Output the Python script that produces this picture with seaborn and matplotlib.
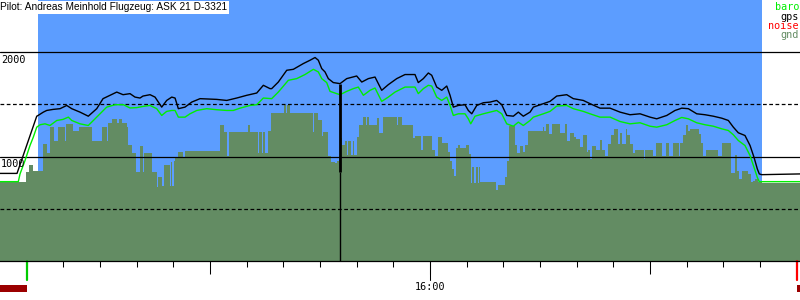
import matplotlib
matplotlib.use("Agg")
import matplotlib.pyplot as plt
import seaborn as sns
from matplotlib.transforms import blended_transform_factory
from matplotlib.patches import Rectangle

# ---------------- data (time = minutes after 15:00, altitude in m) ----------------
gps_time = [1.36, 3.68, 6.37, 6.55, 7.27, 7.73, 8.59, 9.55, 10.46, 11.14, 12.27, 13.40, 14.55,
            15.41, 16.36, 17.28, 18.14, 19.09, 19.77, 20.45, 20.86, 21.82, 22.50, 23.41, 24.09,
            24.78, 25.23, 25.68, 26.59, 27.50, 28.64, 30.91, 32.28, 33.64, 35.00, 36.37, 37.27,
            38.18, 38.41, 39.31, 40.46, 41.36, 42.72, 43.64, 44.32, 44.77, 45.23, 45.68, 46.13,
            46.81, 47.73, 48.64, 50.00, 50.69, 51.59, 52.50, 53.41, 54.31, 55.46, 56.59, 57.95,
            58.40, 59.09, 59.77, 60.23, 60.91, 61.60, 62.28, 62.73, 63.18, 63.86, 64.77, 65.22,
            65.69, 66.37, 67.27, 68.18, 69.09, 69.78, 70.46, 71.36, 72.04, 72.72, 73.64, 74.09,
            75.45, 76.36, 77.28, 78.64, 79.54, 80.90, 81.82, 83.18, 84.55, 85.91, 87.27, 88.64,
            90.00, 90.91, 92.28, 93.41, 94.32, 95.22, 96.37, 97.50, 98.63, 99.78, 100.68, 101.36,
            102.04, 102.95, 103.64, 104.18, 104.63, 104.90, 105.23, 110.45]
gps_alt = [839, 839, 1387, 1394, 1426, 1442, 1452, 1459, 1490, 1459, 1426, 1387, 1459,
           1555, 1587, 1618, 1593, 1603, 1570, 1561, 1580, 1593, 1570, 1474, 1538,
           1570, 1561, 1459, 1474, 1522, 1555, 1548, 1538, 1561, 1587, 1609, 1683,
           1651, 1651, 1714, 1827, 1836, 1891, 1923, 1949, 1923, 1843, 1811, 1747,
           1709, 1699, 1747, 1772, 1714, 1747, 1762, 1635, 1689, 1747, 1786, 1786,
           1709, 1747, 1801, 1779, 1666, 1635, 1676, 1587, 1474, 1490, 1497, 1442,
           1410, 1490, 1516, 1522, 1538, 1497, 1394, 1387, 1426, 1387, 1426, 1474,
           1507, 1529, 1580, 1593, 1555, 1538, 1507, 1464, 1464, 1426, 1401, 1410,
           1378, 1362, 1394, 1442, 1464, 1459, 1410, 1401, 1387, 1368, 1346, 1282,
           1228, 1202, 1106, 993, 882, 834, 827, 834]

baro_time = [1.36, 3.86, 4.09, 4.77, 5.45, 5.90, 6.37, 6.82, 7.50, 8.18, 9.10, 9.94, 10.68,
             11.14, 12.27, 13.40, 14.09, 15.00, 15.91, 17.05, 18.18, 19.09, 20.00, 20.90, 21.82,
             22.73, 23.41, 24.09, 24.78, 25.23, 25.68, 26.59, 27.27, 28.19, 29.55, 30.91, 32.28,
             33.18, 34.09, 35.45, 36.37, 37.27, 38.41, 39.31, 40.68, 41.82, 42.95, 44.09, 44.77,
             45.23, 45.91, 46.36, 47.28, 47.73, 48.64, 49.54, 50.22, 50.91, 51.82, 52.50, 53.41,
             54.31, 55.23, 56.59, 57.95, 58.40, 59.09, 59.77, 60.23, 60.91, 61.60, 62.28, 62.73,
             63.18, 63.86, 64.77, 65.22, 65.55, 66.14, 67.27, 68.18, 69.09, 69.78, 70.46, 71.36,
             72.04, 72.72, 73.64, 74.09, 75.45, 76.36, 77.28, 78.64, 79.54, 80.90, 81.82, 83.18,
             84.55, 85.91, 87.27, 88.64, 90.00, 90.91, 92.28, 93.41, 94.32, 95.22, 96.37, 97.50,
             98.63, 99.78, 100.68, 101.36, 102.04, 102.95, 103.64, 104.18, 104.63, 104.90, 110.45]
baro_alt = [760, 760, 834, 962, 1106, 1186, 1282, 1305, 1314, 1298, 1346, 1356, 1378,
            1346, 1314, 1298, 1346, 1410, 1474, 1497, 1497, 1466, 1469, 1481, 1490,
            1459, 1394, 1433, 1442, 1442, 1378, 1378, 1410, 1442, 1459, 1449, 1442,
            1442, 1464, 1490, 1497, 1561, 1555, 1618, 1731, 1747, 1786, 1836, 1811,
            1747, 1709, 1625, 1603, 1593, 1625, 1651, 1666, 1587, 1635, 1657, 1529,
            1570, 1618, 1666, 1666, 1603, 1651, 1683, 1676, 1570, 1538, 1570, 1490,
            1394, 1410, 1410, 1362, 1314, 1387, 1410, 1426, 1442, 1410, 1314, 1291,
            1330, 1298, 1346, 1378, 1410, 1433, 1484, 1490, 1459, 1433, 1410, 1378,
            1378, 1336, 1314, 1324, 1291, 1282, 1305, 1346, 1375, 1362, 1324, 1305,
            1291, 1266, 1250, 1209, 1154, 1106, 1010, 897, 801, 760, 760]

gnd_edges = [1.36, 4.91, 5.32, 5.82, 7.19, 7.73, 8.18, 8.73, 9.31, 10.23, 10.36, 11.28, 12.18,
             13.87, 15.23, 15.91, 16.13, 16.60, 17.28, 17.63, 17.96, 18.64, 18.86, 19.32, 19.91,
             20.45, 20.90, 21.00, 22.05, 22.73, 22.87, 23.50, 23.73, 24.55, 24.68, 24.86, 25.05,
             25.23, 25.68, 26.28, 26.59, 31.36, 31.91, 32.36, 32.59, 35.22, 35.45, 36.59, 36.72,
             37.02, 37.19, 37.47, 37.87, 38.32, 40.09, 40.32, 40.54, 40.91, 44.00, 44.18, 44.69,
             45.23, 45.45, 46.13, 46.50, 47.05, 47.28, 47.59, 47.73, 47.96, 48.41, 48.72, 48.86,
             49.19, 49.46, 49.64, 50.00, 50.32, 50.90, 51.27, 51.45, 51.68, 52.73, 53.09, 53.63,
             55.46, 55.60, 56.14, 57.72, 57.95, 58.77, 59.00, 60.31, 60.68, 61.05, 61.68, 62.50,
             62.73, 63.04, 63.27, 63.50, 63.78, 64.09, 64.87, 65.32, 65.55, 65.77, 66.00, 66.27,
             66.50, 66.68, 66.82, 68.96, 69.31, 70.23, 70.54, 70.81, 71.59, 71.82, 72.27, 72.72,
             72.95, 73.41, 75.45, 75.55, 75.82, 76.27, 76.68, 77.73, 78.41, 78.72, 79.09, 79.64,
             79.91, 80.45, 80.90, 81.37, 81.59, 81.82, 82.05, 82.64, 83.18, 83.41, 83.86, 84.23,
             84.68, 85.09, 85.68, 85.91, 86.14, 86.69, 86.82, 87.27, 87.64, 87.95, 89.18, 89.32,
             90.45, 90.82, 91.60, 92.18, 92.59, 93.18, 93.95, 94.09, 94.54, 94.91, 95.22, 95.45,
             96.68, 96.95, 97.27, 97.64, 99.31, 99.86, 101.00, 101.59, 101.82, 102.18, 102.50,
             103.40, 103.77, 104.00, 104.32, 104.77, 105.23, 110.45]
gnd_alt = [753, 849, 923, 865, 1122, 1032, 1288, 1154, 1288, 1154, 1308, 1250, 1288,
           1154, 1288, 1154, 1320, 1362, 1320, 1362, 1320, 1288, 1115, 1032, 849,
           1106, 849, 1032, 849, 705, 808, 721, 923, 721, 952, 721, 962,
           993, 1048, 993, 1058, 1298, 1240, 1010, 1240, 1298, 1240, 1030, 1240,
           1030, 1240, 1030, 1250, 1420, 1490, 1420, 1490, 1420, 1240, 1420, 1346,
           1202, 1240, 1010, 952, 939, 962, 1010, 1176, 1112, 1154, 1016, 1154,
           1016, 1154, 1016, 1186, 1298, 1378, 1298, 1378, 1298, 1368, 1228, 1378,
           1298, 1378, 1298, 1176, 1195, 1067, 1195, 1067, 1003, 1186, 1128, 1041,
           962, 882, 817, 1080, 1115, 1080, 1115, 1026, 747, 897, 747, 897,
           747, 897, 753, 683, 728, 808, 962, 1291, 1112, 1035, 1099, 1041,
           1115, 1250, 1288, 1250, 1308, 1218, 1308, 1224, 1308, 1154, 1228, 1186,
           1170, 1089, 1209, 1048, 1067, 978, 1106, 1064, 1163, 1064, 1010, 1122,
           1209, 1260, 1122, 1228, 1122, 1260, 1209, 1122, 1032, 1064, 978, 1064,
           1010, 1128, 1010, 1128, 1010, 1128, 1010, 1128, 1209, 1298, 1250, 1260,
           1218, 1128, 1010, 1064, 1010, 1128, 843, 1019, 865, 786, 865,
           834, 753, 769, 786, 760, 743]

flight_span = [6.55, 105.27]        # blue area (airborne)
cursor_time = 47.73
cursor_alts = [1700, 850]
takeoff_mark, landing_mark = 5.0, 110.0
noise_bars = [(1.36, 5.0), (110.1, 110.45)]
solid_levels = [1000, 2000]
dashed_levels = [500, 1500]
alt_labels = [1000, 2000]
minor_ticks = [5 * k for k in range(1, 23)]
mid_ticks = [30, 90]
label_tick = 60
label_text = "16:00"
title = "Pilot: Andreas Meinhold Flugzeug: ASK 21 D-3321"
legend_names = ["baro", "gps", "noise", "gnd"]

# ---------------- styling ----------------
BLUE = "#5c9dff"
GND = "#638c63"
BARO = "#00ee00"
GPS = "#000000"
NOISE = "#ff0000"
legend_colors = [BARO, GPS, NOISE, GND]
x_min, x_max = 1.36, 110.45
H = 261.0  # axes height in px

sns.set_style("white")
plt.rcParams["font.family"] = ["DejaVu Sans"]

fig = plt.figure(figsize=(8, 3), dpi=100)
ax = fig.add_axes([0, 39 / 300, 1, H / 300])

ax.axvspan(flight_span[0], flight_span[1], color=BLUE, lw=0, zorder=0)

mids = [(a + b) / 2 for a, b in zip(gnd_edges[:-1], gnd_edges[1:])]
sns.histplot(x=mids, weights=gnd_alt, bins=gnd_edges, element="step", fill=True,
             color=GND, alpha=1, linewidth=0, ax=ax, zorder=1)

for lv in solid_levels:
    ax.axhline(lv, color="black", lw=0.9, zorder=2)
for lv in dashed_levels:
    ax.axhline(lv, color="black", lw=0.9, ls=(0, (3, 2)), zorder=2)

sns.lineplot(x=baro_time, y=baro_alt, estimator=None, sort=False, color=BARO,
             lw=1.0, ax=ax, zorder=3)
sns.lineplot(x=gps_time, y=gps_alt, estimator=None, sort=False, color=GPS,
             lw=1.0, ax=ax, zorder=4)

ax.vlines(cursor_time, cursor_alts[1], cursor_alts[0], color="black", lw=2.0, zorder=5)
ax.vlines(cursor_time, 0, cursor_alts[1], color="black", lw=1.0, zorder=5)

ax.set_xlim(x_min, x_max)
ax.set_ylim(0, 2500)
ax.set_xlabel("")
ax.set_ylabel("")
for s in ["top", "left", "right"]:
    ax.spines[s].set_visible(False)
ax.spines["bottom"].set_color("black")
ax.spines["bottom"].set_linewidth(0.9)
ax.set_yticks([])

ax.set_xticks(mid_ticks + [label_tick])
ax.set_xticklabels([""] * (len(mid_ticks) + 1))
ax.set_xticks(minor_ticks, minor=True)
ax.tick_params(axis="x", which="major", direction="out", length=9.4, width=0.75,
               color="black", bottom=True)
ax.tick_params(axis="x", which="minor", direction="out", length=4.3, width=0.75,
               color="black", bottom=True)

xt = blended_transform_factory(ax.transData, ax.transAxes)
def py(p):
    return (H - p) / H

ax.plot([label_tick, label_tick], [py(H), py(H + 19)], transform=xt, color="black",
        lw=0.75, clip_on=False)
ax.plot([takeoff_mark, takeoff_mark], [py(H), py(H + 19)], transform=xt, color="#00cc00",
        lw=1.6, clip_on=False)
ax.plot([landing_mark, landing_mark], [py(H), py(H + 19)], transform=xt, color=NOISE,
        lw=1.6, clip_on=False)
for a, b in noise_bars:
    ax.add_patch(Rectangle((a, py(H + 31)), b - a, py(H + 24) - py(H + 31), transform=xt,
                           color="#9b0000", lw=0, clip_on=False))
ax.text(label_tick, py(H + 29.5), label_text, transform=xt, ha="center", va="baseline",
        family="DejaVu Sans Mono", fontsize=7.3, color="black")

yt = blended_transform_factory(ax.transAxes, ax.transData)
for lv in alt_labels:
    ax.text(0.001, lv - 10.7 * 2500 / H, str(lv), transform=yt, ha="left", va="baseline",
            family="DejaVu Sans Mono", fontsize=7.3, color="black", zorder=6)

fig.text(0.0, 1 - 2.5 / 300, title, ha="left", va="top", family="Liberation Sans",
         fontsize=7.3, color="black",
         bbox=dict(facecolor="white", edgecolor="none", pad=1.0))

base = [10, 19.5, 29, 38.5]
for name, col, b in zip(legend_names, legend_colors, base):
    fig.text(799 / 800, 1 - b / 300, name, ha="right", va="baseline",
             family="DejaVu Sans Mono", fontsize=7.3, color=col)

fig.savefig("out.png", dpi=100, facecolor="white")
